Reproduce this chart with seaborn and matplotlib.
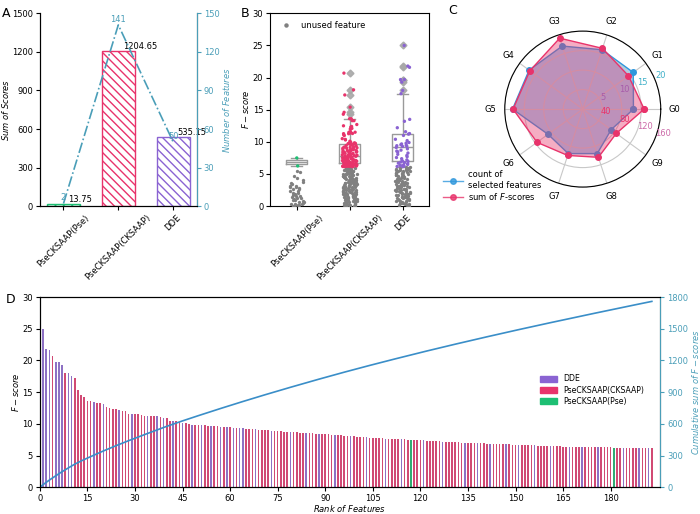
import numpy as np
import pandas as pd
import matplotlib
matplotlib.use("Agg")
import matplotlib.pyplot as plt
import seaborn as sns
from matplotlib.lines import Line2D
from matplotlib.patches import Patch

np.random.seed(3)

# ---- data -------------------------------------------------------------
groups = ["PseCKSAAP(Pse)", "PseCKSAAP(CKSAAP)", "DDE"]
score_sums = [13.75, 1204.65, 535.15]
n_features = [2, 141, 50]

# F-scores of the selected features of each group
pse_selected = [7.5, 6.25]
dde_selected = [25.0, 21.8, 21.6, 19.7, 19.7, 19.3, 18.0, 17.5, 13.5, 13.2,
                12.2, 11.58, 11.29, 11.2, 11.0, 10.4, 10.2, 9.9, 9.8, 9.68,
                9.56, 9.48, 9.4, 9.32, 9.28, 9.12, 8.92, 8.71, 8.56, 8.44,
                8.26, 8.06, 7.88, 7.69, 7.56, 7.38, 7.2, 7.03, 6.95, 6.87,
                6.77, 6.69, 6.59, 6.49, 6.41, 6.37, 6.32, 6.22, 6.17, 6.14]
cksaap_selected = [20.7, 18.1, 17.3, 15.4, 14.6, 14.3, 13.6, 13.6, 13.3, 13.3,
                   12.7, 12.5, 12.4, 12.3, 12.1, 12.0, 11.6, 11.5, 11.5, 11.4,
                   11.3, 11.28, 11.27, 11.1, 10.98, 10.5, 10.38, 10.3, 10.1,
                   9.95, 9.85, 9.82, 9.76, 9.72, 9.65, 9.6, 9.52, 9.44, 9.36,
                   9.24, 9.2, 9.16, 9.08, 9.04, 9.0, 8.96, 8.88, 8.84, 8.8,
                   8.77, 8.74, 8.68, 8.65, 8.62, 8.59, 8.53, 8.5, 8.47, 8.41,
                   8.38, 8.35, 8.3, 8.22, 8.18, 8.14, 8.1, 8.02, 7.98, 7.95,
                   7.92, 7.85, 7.82, 7.78, 7.75, 7.72, 7.66, 7.63, 7.6, 7.58,
                   7.54, 7.52, 7.47, 7.44, 7.41, 7.35, 7.32, 7.29, 7.26, 7.23,
                   7.17, 7.14, 7.11, 7.09, 7.07, 7.05, 7.01, 6.99, 6.97, 6.93,
                   6.91, 6.89, 6.85, 6.83, 6.81, 6.79, 6.75, 6.73, 6.71, 6.67,
                   6.65, 6.63, 6.61, 6.57, 6.55, 6.53, 6.51, 6.47, 6.45, 6.44,
                   6.43, 6.42, 6.4, 6.39, 6.38, 6.36, 6.35, 6.34, 6.33, 6.31,
                   6.3, 6.29, 6.28, 6.24, 6.23, 6.21, 6.2, 6.19, 6.18, 6.16,
                   6.15, 6.13]

# F-scores of features that were not selected
pse_unused = [5.5, 5.3, 4.7, 4.4, 4.0, 3.8, 3.6, 3.4, 3.2, 3.1, 3.0, 2.9, 2.8,
              2.7, 2.6, 2.4, 2.3, 2.1, 2.0, 1.9, 1.7, 1.6, 1.5, 1.4, 1.3, 1.2,
              1.1, 1.0, 0.9, 0.8, 0.7, 0.6, 0.5, 0.4, 0.35, 0.3, 0.2, 0.15,
              0.1, 0.05]
cksaap_unused = [6.06, 6.02, 5.98, 5.95, 5.91, 5.87, 5.84, 5.8, 5.76, 5.73,
                 5.69, 5.65, 5.62, 5.57, 5.53, 5.5, 5.46, 5.41, 5.38, 5.34,
                 5.29, 5.26, 5.22, 5.17, 5.13, 5.1, 5.05, 5.01, 4.97, 4.93,
                 4.88, 4.85, 4.8, 4.76, 4.72, 4.68, 4.63, 4.6, 4.55, 4.51,
                 4.47, 4.42, 4.39, 4.34, 4.3, 4.25, 4.21, 4.17, 4.13, 4.08,
                 4.04, 3.99, 3.95, 3.91, 3.86, 3.82, 3.78, 3.73, 3.69, 3.65,
                 3.6, 3.56, 3.52, 3.47, 3.43, 3.39, 3.34, 3.3, 3.25, 3.21,
                 3.17, 3.12, 3.08, 3.03, 2.99, 2.95, 2.9, 2.86, 2.81, 2.77,
                 2.72, 2.68, 2.63, 2.59, 2.54, 2.5, 2.45, 2.41, 2.36, 2.32,
                 2.27, 2.23, 2.18, 2.13, 2.09, 2.04, 2.0, 1.95, 1.9, 1.86,
                 1.81, 1.76, 1.72, 1.67, 1.62, 1.58, 1.53, 1.48, 1.43, 1.39,
                 1.34, 1.29, 1.24, 1.19, 1.15, 1.1, 1.05, 1.0, 0.95, 0.9,
                 0.85, 0.8, 0.75, 0.7, 0.65, 0.6, 0.55, 0.5, 0.45, 0.4,
                 0.35, 0.3, 0.25, 0.2, 0.15, 0.1, 0.06, 0.03, 0.01, 0.0]
dde_unused = [6.07, 6.01, 5.96, 5.9, 5.84, 5.79, 5.73, 5.68, 5.62, 5.56,
              5.51, 5.45, 5.4, 5.34, 5.28, 5.23, 5.17, 5.11, 5.06, 5.0,
              4.94, 4.89, 4.83, 4.77, 4.72, 4.66, 4.6, 4.55, 4.49, 4.43,
              4.38, 4.32, 4.26, 4.21, 4.15, 4.09, 4.04, 3.98, 3.92, 3.87,
              3.81, 3.75, 3.7, 3.64, 3.58, 3.53, 3.47, 3.41, 3.36, 3.3,
              3.24, 3.19, 3.13, 3.07, 3.02, 2.96, 2.9, 2.85, 2.79, 2.73,
              2.68, 2.62, 2.56, 2.51, 2.45, 2.39, 2.34, 2.28, 2.22, 2.17,
              2.11, 2.05, 2.0, 1.94, 1.88, 1.83, 1.77, 1.71, 1.66, 1.6,
              1.54, 1.49, 1.43, 1.37, 1.32, 1.26, 1.2, 1.15, 1.09, 1.03,
              0.98, 0.92, 0.86, 0.81, 0.75, 0.69, 0.64, 0.58, 0.52, 0.47,
              0.41, 0.35, 0.3, 0.24, 0.18, 0.13, 0.07, 0.02]

# radar: CKSAAP features split into groups G0..G9
radar_labels = ["G0", "G1", "G2", "G3", "G4", "G5", "G6", "G7", "G8", "G9"]
radar_counts = [13, 16, 16, 17, 17, 18, 11, 12, 12, 9]
radar_fsums = [126, 116, 131, 153, 134, 143, 116, 100, 104, 85]

# ---- styling ----------------------------------------------------------
colors = {"PseCKSAAP(Pse)": "#1dbf73", "PseCKSAAP(CKSAAP)": "#e8336b", "DDE": "#8a63d2"}
teal = "#4a9eb8"
blue = "#2f97dc"
pink = "#e8336b"
fs = 6.0
plt.rcParams["font.size"] = fs
plt.rcParams["xtick.labelsize"] = fs
plt.rcParams["ytick.labelsize"] = fs
plt.rcParams["xtick.major.size"] = 3
plt.rcParams["ytick.major.size"] = 3
plt.rcParams["xtick.major.pad"] = 2
plt.rcParams["ytick.major.pad"] = 2

fig = plt.figure(figsize=(7, 5.14), dpi=100)

# ---- A: sum of scores + number of features ------------------------------
axA = fig.add_axes([0.057, 0.599, 0.224, 0.375])
sns.barplot(x=groups, y=score_sums, hue=groups, palette=colors, fill=False,
            width=0.6, linewidth=1, hatch="\\\\\\\\", legend=False, ax=axA)
axA.set_ylim(0, 1500)
axA.set_yticks(range(0, 1501, 300))
axA.set_ylabel("$Sum\\ of\\ Scores$", labelpad=1)
axA.tick_params(axis="x", rotation=45)
for i, s in enumerate(score_sums):
    axA.text(i + 0.08, s, f"{s}", ha="left", va="bottom", fontsize=fs)
axA2 = axA.twinx()
sns.lineplot(x=list(range(len(groups))), y=n_features, color=teal, linestyle="-.",
             linewidth=1.2, ax=axA2)
axA2.set_ylim(0, 150)
axA2.set_yticks(range(0, 151, 30))
axA2.set_ylabel("$Number\\ of\\ Features$", color=teal, labelpad=1)
axA2.tick_params(axis="y", colors=teal)
axA2.spines["right"].set_color(teal)
for i, n in enumerate(n_features):
    axA2.text(i, n + 1, str(n), color=teal, ha="center", va="bottom", fontsize=fs)
for a in (axA, axA2):
    a.spines["top"].set_visible(False)
fig.text(0.003, 0.966, "A", fontsize=9)

# ---- B: F-score distribution ------------------------------------------
unused_df = pd.DataFrame({
    "group": [groups[0]] * len(pse_unused) + [groups[1]] * len(cksaap_unused) + [groups[2]] * len(dde_unused),
    "score": pse_unused + cksaap_unused + dde_unused})
sel_df = pd.DataFrame({
    "group": [groups[0]] * len(pse_selected) + [groups[1]] * len(cksaap_selected) + [groups[2]] * len(dde_selected),
    "score": pse_selected + cksaap_selected + dde_selected})

axB = fig.add_axes([0.386, 0.599, 0.227, 0.375])
sns.stripplot(data=unused_df, x="group", y="score", order=groups, color="#808080",
              size=2.4, jitter=0.14, ax=axB)
sns.stripplot(data=sel_df, x="group", y="score", order=groups, hue="group",
              palette=colors, size=2.4, jitter=0.14, legend=False, ax=axB)
sns.boxplot(data=sel_df, x="group", y="score", order=groups, fill=False,
            color="#9a9a9a", width=0.4, linewidth=1, ax=axB,
            flierprops=dict(marker="D", markersize=3.5, markerfacecolor="#a8a8a8",
                            markeredgecolor="#a8a8a8", alpha=0.9))
axB.set_ylim(0, 30)
axB.set_yticks(range(0, 31, 5))
axB.set_xlabel("")
axB.set_ylabel("$F-score$", labelpad=1)
axB.tick_params(axis="x", rotation=45)
axB.legend(handles=[Line2D([], [], marker="o", ms=2.2, lw=0, color="#808080")],
           labels=["unused feature"], loc="upper left", frameon=False, fontsize=fs)
fig.text(0.344, 0.966, "B", fontsize=9)

# ---- C: radar ----------------------------------------------------------
rectC = [0.721, 0.636, 0.223, 0.3035]
theta = np.deg2rad(np.arange(len(radar_labels)) * 360 / len(radar_labels))
th = np.append(theta, theta[0])

axC = fig.add_axes(rectC, projection="polar")
axC.plot(th, radar_counts + radar_counts[:1], color=blue, marker="o", ms=4, lw=1)
axC.fill(th, radar_counts + radar_counts[:1], color=blue, alpha=0.45, lw=0)
axC.set_ylim(0, 20)
axC.set_yticks([5, 10, 15, 20])
axC.set_yticklabels(["5", "10", "15", "20"])
for t, c in zip(axC.get_yticklabels(), ["#7d78d4", "#7d78d4", "#3fb0c8", "#3fb0c8"]):
    t.set_color(c)
axC.set_rlabel_position(22)
axC.set_xticks(theta)
axC.set_xticklabels(radar_labels, fontsize=fs)
axC.tick_params(axis="x", pad=0)
axC.grid(color="#c8c8c8", lw=0.8)

axC2 = fig.add_axes(rectC, projection="polar", facecolor="none")
axC2.plot(th, radar_fsums + radar_fsums[:1], color=pink, marker="o", ms=4, lw=1)
axC2.fill(th, radar_fsums + radar_fsums[:1], color=pink, alpha=0.4, lw=0)
axC2.set_ylim(0, 160)
axC2.set_yticks([40, 80, 120, 160])
axC2.set_yticklabels(["40", "80", "120", "160"])
for t, c in zip(axC2.get_yticklabels(), ["#e8336b", "#e8336b", "#cc6aa8", "#cc6aa8"]):
    t.set_color(c)
axC2.set_rlabel_position(338)
axC2.set_xticks(theta)
axC2.set_xticklabels([])
axC2.grid(False)
axC2.spines["polar"].set_visible(False)
fig.legend(handles=[Line2D([], [], color=blue, marker="o", ms=4, lw=1, alpha=0.8),
                    Line2D([], [], color=pink, marker="o", ms=4, lw=1, alpha=0.8)],
           labels=["count of\nselected features", "sum of $F$-scores"],
           loc="upper left", bbox_to_anchor=(0.625, 0.68), frameon=False,
           fontsize=fs, handlelength=2.4, labelspacing=0.2, borderpad=0.2,
           handletextpad=0.6)
fig.text(0.641, 0.972, "C", fontsize=9)

# ---- D: ranked F-scores + cumulative sum --------------------------------
all_df = sel_df.sort_values("score", ascending=False, kind="stable").reset_index(drop=True)
all_df["rank"] = np.arange(1, len(all_df) + 1)
cum = np.concatenate([[0], np.cumsum(all_df["score"].values)])

axD = fig.add_axes([0.057, 0.052, 0.886, 0.37])
sns.barplot(data=all_df, x="rank", y="score", hue="group", palette=colors,
            native_scale=True, dodge=False, width=0.5, errorbar=None,
            legend=False, ax=axD)
axD.set_xlim(0, 195.6)
axD.set_xticks(range(0, 181, 15))
axD.set_ylim(0, 30)
axD.set_yticks(range(0, 31, 5))
axD.set_xlabel("$Rank\\ of\\ Features$", labelpad=0)
axD.set_ylabel("$F-score$", labelpad=1)
axD.legend(handles=[Patch(color=colors[g]) for g in groups[::-1]],
           labels=groups[::-1], loc="center left", bbox_to_anchor=(0.795, 0.51),
           frameon=False, fontsize=5.6, handlelength=2.2, handleheight=0.8,
           labelspacing=0.3)
axD2 = axD.twinx()
sns.lineplot(x=np.arange(len(cum)), y=cum, color="#3a8ec8", linewidth=1.2, ax=axD2)
axD2.set_ylim(0, 1800)
axD2.set_yticks(range(0, 1801, 300))
axD2.set_ylabel("$Cumulative\\ sum\\ of\\ F-scores$", color=teal, labelpad=1)
axD2.tick_params(axis="y", colors=teal)
axD2.spines["right"].set_color(teal)
fig.text(0.008, 0.41, "D", fontsize=9)

fig.savefig("out.png", dpi=100)
